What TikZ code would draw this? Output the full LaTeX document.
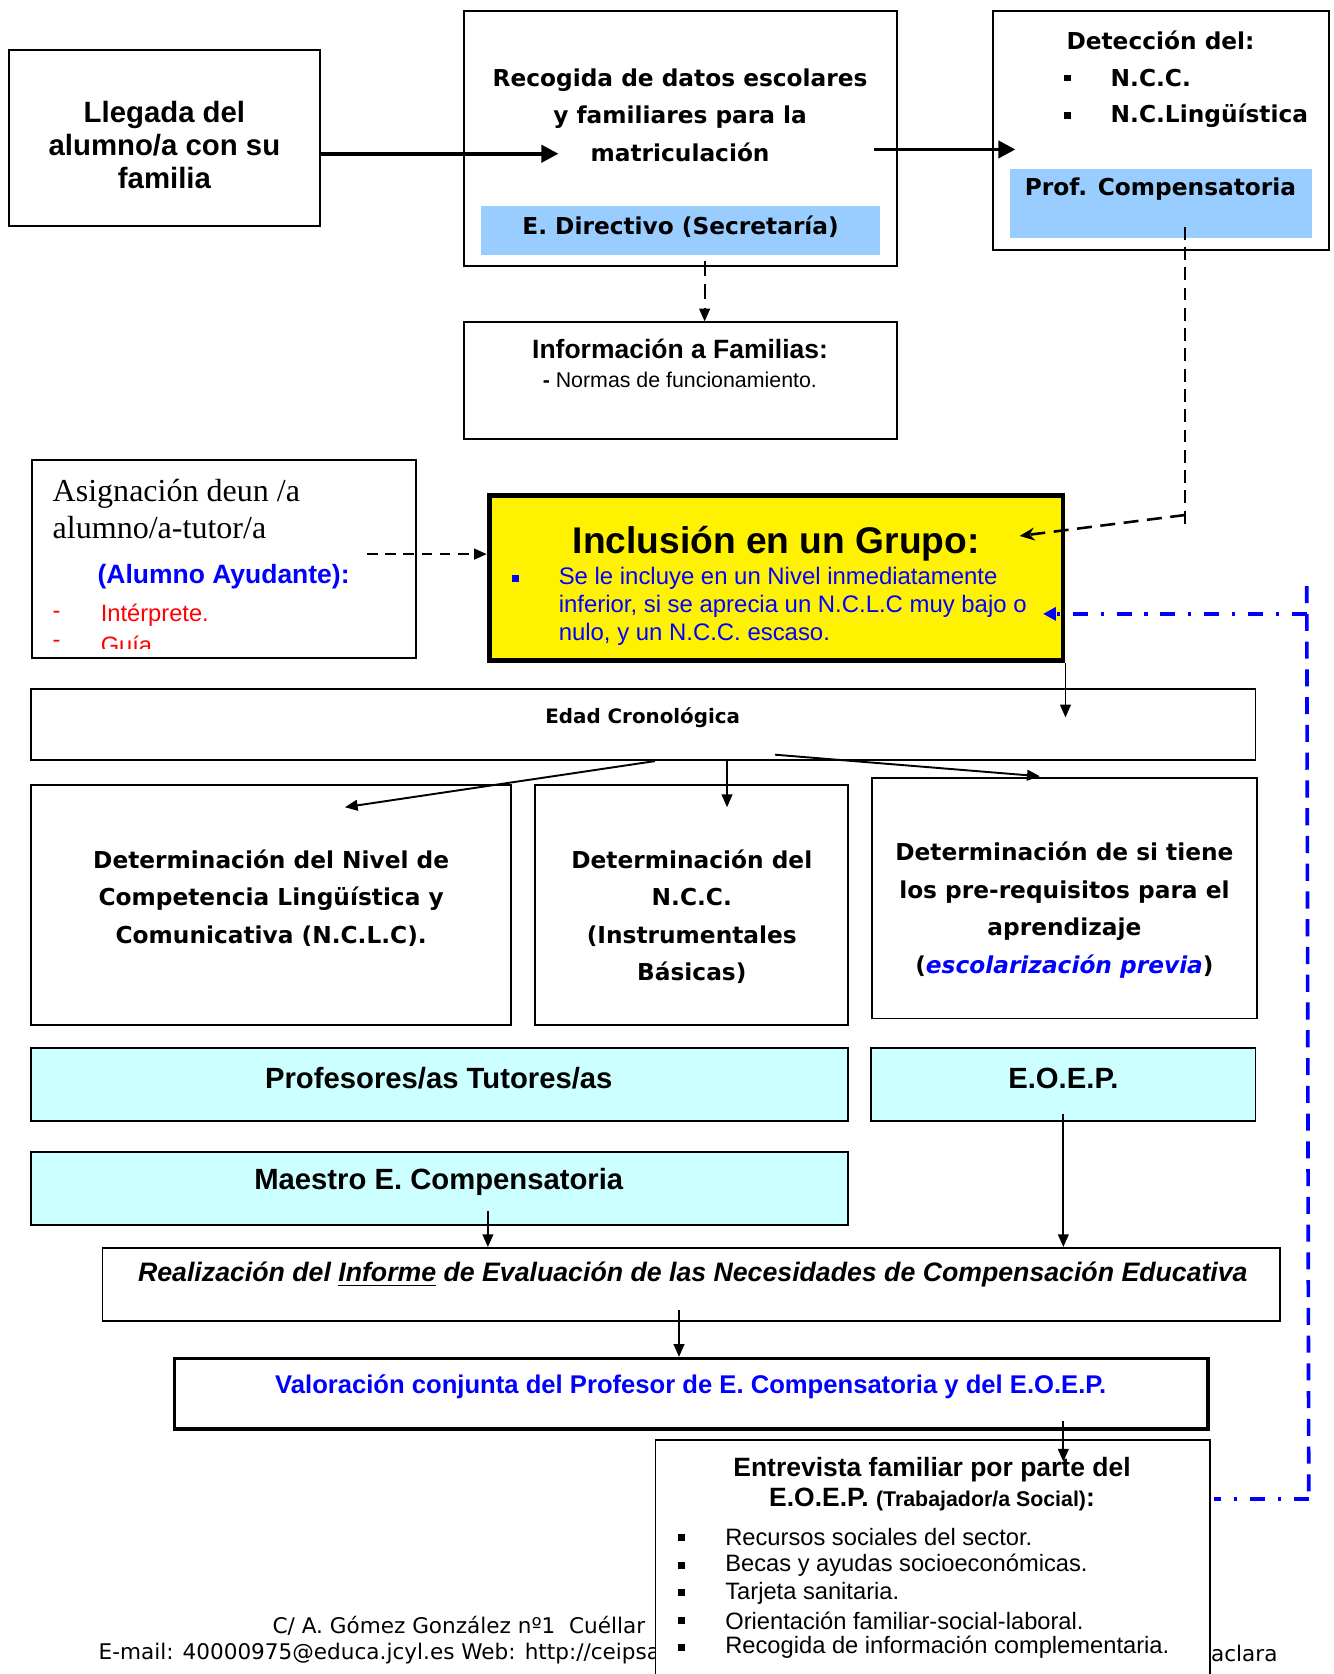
\documentclass[tikz,border=0pt]{standalone}
\usepackage{fontspec}
\setmainfont{Liberation Sans}
\newfontfamily\comicfont{DejaVu Sans}
\newfontfamily\timesfont{Liberation Serif}
\newfontfamily\footfont{DejaVu Sans}
\usetikzlibrary{positioning,calc,arrows.meta}
\definecolor{bandblue}{HTML}{99CCFF}
\definecolor{paleaqua}{HTML}{CCFFFF}

\begin{document}
\begin{tikzpicture}[x=0.5pt,y=-0.5pt]
\tikzstyle{box}=[draw, line width=0.9pt, fill=white, inner sep=0pt]
\tikzstyle{aqua}=[box, fill=paleaqua]
\tikzstyle{band}=[fill=bandblue, inner sep=0pt]
\tikzstyle{comic}=[font=\comicfont\bfseries\fontsize{10.9}{17.5}\selectfont, align=center, inner sep=0pt]
\tikzstyle{bold}=[font=\bfseries\fontsize{13.7}{16}\selectfont, inner sep=0pt]
\tikzstyle{plain}=[font=\fontsize{11.1}{13}\selectfont, inner sep=0pt]
\tikzstyle{sqbullet}=[fill, inner sep=0pt, minimum size=3.2pt]
\tikzstyle{arrow}=[-{Triangle[length=6pt,width=5pt]}, line width=0.9pt]
\tikzstyle{bigarrow}=[-{Triangle[length=8pt,width=8pt]}, line width=1.8pt]
\tikzstyle{bluedash}=[blue, line width=1.7pt, dash pattern=on 8pt off 5pt]
\tikzstyle{bluedashdot}=[blue, line width=1.7pt, dash pattern=on 7pt off 6pt on 1.5pt off 6pt]

\useasboundingbox (0,0) rectangle (1249,1568);
\clip (0,0) rectangle (1249,1568);

% footer, partly hidden by the last box
\node[font=\footfont\fontsize{10.1}{12}\selectfont, anchor=west, inner sep=0pt] (addr) at (255,1523) {C/ A. Gómez González nº1\ \ Cuéllar};
\node[font=\footfont\fontsize{10.1}{12}\selectfont, anchor=west, inner sep=0pt] (mail) at (92,1549) {E-mail: 40000975@educa.jcyl.es Web: http://ceipsa};
\node[font=\footfont\fontsize{10.1}{12}\selectfont, anchor=west, inner sep=0pt] (mail2) at (1134,1549) {aclara};

% top row
\node[box, minimum width=146pt, minimum height=82.5pt] (llegada) at (154,129.5) {};
\node[bold, align=center, font=\bfseries\fontsize{13.75}{15.5}\selectfont] (llegada-t) at (154,136) {Llegada del\\alumno/a con su\\familia};

\node[box, minimum width=202.5pt, minimum height=119.5pt] (recogida) at (637.5,129.5) {};
\node[band, minimum width=186.5pt, minimum height=23pt] (directivo) at (637.5,216) {};
\node[comic] (directivo-t) at (637.5,212) {E. Directivo (Secretaría)};
\node[comic] (recogida-t) at (637,108) {Recogida de datos escolares\\y familiares para la\\matriculación};

\node[box, minimum width=157.5pt, minimum height=112pt] (deteccion) at (1087.5,122) {};
\node[band, minimum width=141.5pt, minimum height=32.5pt] (profcomp) at (1087.5,190.5) {};
\node[comic] (profcomp-t) at (1087,177) {Prof. Compensatoria};
\node[comic] (deteccion-t) at (1087,38) {Detección del:};
\node[sqbullet] (bul1) at (1000,73) {};
\node[sqbullet] (bul2) at (1000,108) {};
\node[comic, anchor=west] (det-ncc) at (1040,73) {N.C.C.};
\node[comic, anchor=west] (det-ncl) at (1040,108) {N.C.Lingüística};

\node[box, minimum width=202.5pt, minimum height=54.5pt] (info) at (637.5,356.5) {};
\node[bold, font=\bfseries\fontsize{12.4}{14}\selectfont] (info-t) at (637,327) {Información a Familias:};
\node[plain, font=\fontsize{10}{12}\selectfont, anchor=west] (info-l) at (508,356) {{\bfseries -} Normas de funcionamiento.};

% middle
\node[box, minimum width=180pt, minimum height=92.5pt] (asign) at (210,523.5) {};
\node[anchor=west, align=left, inner sep=0pt, font=\timesfont\fontsize{15}{17.5}\selectfont] (asign-t) at (49,476.5) {Asignación deun /a\\alumno/a-tutor/a};
\node[bold, anchor=west, text=blue, font=\bfseries\fontsize{12.4}{14}\selectfont] (ayudante) at (91,540) {(Alumno Ayudante):};
\begin{scope}
\clip (30,431) rectangle (390,607);
\node[plain, text=red] (dash1) at (53,576) {-};
\node[plain, text=red, anchor=west] (interp) at (94,576) {Intérprete.};
\node[plain, text=red] (dash2) at (53,603) {-};
\node[plain, text=red, anchor=west] (guia) at (94,604) {Guía};
\end{scope}

\node[draw, line width=2.3pt, fill=yellow, inner sep=0pt, minimum width=268.7pt, minimum height=77.2pt] (inclusion) at (727,541.5) {};
\node[bold, font=\bfseries\fontsize{17.4}{20}\selectfont] (inclusion-t) at (727,509) {Inclusión en un Grupo:};
\node[sqbullet, fill=blue] (bul3) at (483,542) {};
\node[plain, anchor=west, align=left, text=blue, font=\fontsize{11.2}{13}\selectfont] (inclusion-p) at (523,568) {Se le incluye en un Nivel inmediatamente\\inferior, si se aprecia un N.C.L.C muy bajo o\\nulo, y un N.C.C. escaso.};

\node[box, minimum width=573.5pt, minimum height=33.5pt] (edad) at (602.5,678.5) {};
\node[comic, font=\comicfont\bfseries\fontsize{9.3}{11}\selectfont] (edad-t) at (602,672) {Edad Cronológica};

\node[box, minimum width=225pt, minimum height=112.5pt] (nclc) at (254,847.5) {};
\node[comic] (nclc-t) at (254,841) {Determinación del Nivel de\\Competencia Lingüística y\\Comunicativa (N.C.L.C).};
\node[box, minimum width=146.5pt, minimum height=112.5pt] (nccbox) at (647.5,847.5) {};
\node[comic] (ncc-t) at (648,858.5) {Determinación del\\N.C.C.\\(Instrumentales\\Básicas)};
\node[box, minimum width=180pt, minimum height=112.5pt] (prereq) at (997,841.5) {};
\node[comic] (prereq-t) at (997,852.5) {Determinación de si tiene\\los pre-requisitos para el\\aprendizaje\\({\color{blue}\itshape escolarización previa})};

% lower part
\node[aqua, minimum width=382.5pt, minimum height=34pt] (tutores) at (411.5,1016) {};
\node[bold] (tutores-t) at (411,1010) {Profesores/as Tutores/as};
\node[aqua, minimum width=180pt, minimum height=34pt] (eoep) at (996,1016) {};
\node[bold] (eoep-t) at (996,1010) {E.O.E.P.};
\node[aqua, minimum width=382.5pt, minimum height=34pt] (maestro) at (411.5,1113) {};
\node[bold] (maestro-t) at (411,1107) {Maestro E. Compensatoria};

\node[box, minimum width=551.5pt, minimum height=34pt] (informe) at (647.5,1203) {};
\node[bold, font=\bfseries\itshape\fontsize{12.5}{14}\selectfont] (informe-t) at (649,1194) {Realización del \underline{Informe} de Evaluación de las Necesidades de Compensación Educativa};

\node[draw, line width=1.5pt, fill=white, inner sep=0pt, minimum width=484pt, minimum height=33pt] (valoracion) at (647.5,1305.5) {};
\node[bold, text=blue, font=\bfseries\fontsize{12}{14}\selectfont] (valoracion-t) at (647,1299) {Valoración conjunta del Profesor de E. Compensatoria y del E.O.E.P.};

\node[box, minimum width=259.5pt, minimum height=145pt] (entrevista) at (873.5,1494) {};
\node[bold, align=center, font=\bfseries\fontsize{12.4}{14}\selectfont] (entrevista-t) at (873,1390) {Entrevista familiar por parte del\\E.O.E.P. {\fontsize{10}{12}\selectfont(Trabajador/a Social)}:};
\node[sqbullet] (eb1) at (638,1440) {};
\node[sqbullet] (eb2) at (638,1466) {};
\node[sqbullet] (eb3) at (638,1492) {};
\node[sqbullet] (eb4) at (638,1518) {};
\node[sqbullet] (eb5) at (638,1543) {};
\node[plain, anchor=west] (et1) at (679,1440) {Recursos sociales del sector.};
\node[plain, anchor=west] (et2) at (679,1466) {Becas y ayudas socioeconómicas.};
\node[plain, anchor=west] (et3) at (679,1492) {Tarjeta sanitaria.};
\node[plain, anchor=west] (et4) at (679,1518) {Orientación familiar-social-laboral.};
\node[plain, anchor=west] (et5) at (679,1543) {Recogida de información complementaria.};

% connectors
\draw[bigarrow] ($(llegada.east)+(0,14.5)$) -- ($(recogida.west)+(89,14.5)$);
\draw[bigarrow] ($(recogida.east)+(-22,10.5)$) -- ($(deteccion.west)+(22,18)$);
\draw[arrow, dash pattern=on 7pt off 4pt] ($(directivo.south)+(22.5,5)$) -- ($(info.north)+(22.5,0)$);
\draw[line width=0.7pt, dash pattern=on 6pt off 3.5pt] ($(profcomp.south)+(22.5,-11)$) -- ($(profcomp.south)+(22.5,267)$);
\draw[-{Stealth[length=7pt,width=6pt]}, line width=1.2pt, dash pattern=on 7pt off 4pt] ($(profcomp.south)+(22.5,259)$) -- ($(inclusion.east)+(-43,-39.5)$);
\draw[arrow, line width=1.1pt, dash pattern=on 5pt off 3.5pt] ($(asign.east)+(-47,-4.5)$) -- ($(inclusion.west)+(0,-22.5)$);

\coordinate (bluetop) at ($(inclusion.east)+(226,7.5)$);
\coordinate (bluecorner) at ($(entrevista.north east)+(92,56)$);
\draw[bluedash] (bluetop) -- (bluecorner);
\draw[bluedashdot] (bluecorner) -- ($(entrevista.north east)+(3,56)$);
\draw[bluedashdot, -{Triangle[length=6pt,width=6pt]}] ($(bluetop)+(0,26)$) -- ($(inclusion.east)+(-21,33.5)$);

\draw[arrow] (inclusion.south east) -- (inclusion.south east |- edad-t);
\draw[arrow] ($(edad.south)+(11,0)$) -- ($(nclc.north)+(69,22)$);
\draw[arrow] ($(edad.south)+(78.5,0)$) -- ($(nccbox.north)+(33.5,22)$);
\draw[arrow] ($(edad.south)+(123.5,-6)$) -- ($(prereq.north)+(-23,-1)$);

\draw[arrow] ($(maestro.south)+(45.5,-14)$) -- ($(informe.north)+(-190.5,0)$);
\draw[arrow] ($(eoep.south)+(0,-7)$) -- (eoep.south |- informe.north);
\draw[arrow] ($(informe.south)+(-11.5,-11)$) -- ($(valoracion.north)+(-11.5,0)$);
\draw[arrow] ($(valoracion.south)+(348.5,-9)$) -- ($(entrevista.north)+(122.5,21)$);
\end{tikzpicture}
\end{document}
